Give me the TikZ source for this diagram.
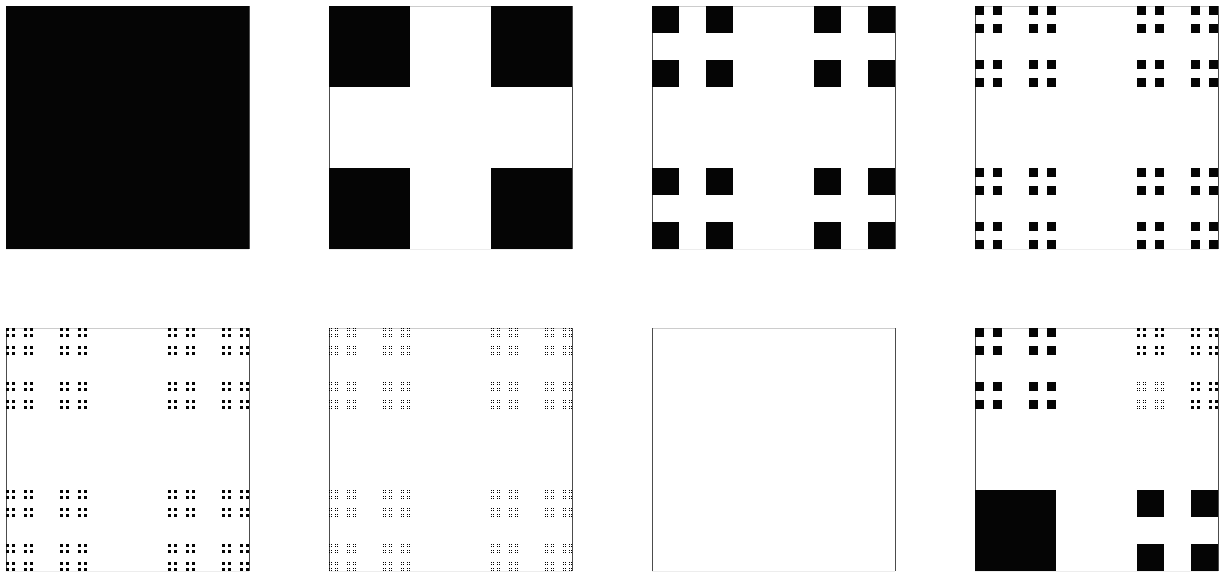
\documentclass[tikz,border=0pt]{standalone}
\usepackage{tikz}
\definecolor{frameL}{gray}{0.30}
\definecolor{frameT}{gray}{0.80}
\definecolor{frameB}{gray}{0.93}
\makeatletter
\def\cdust#1#2#3#4{%
  \ifnum#4=0
    \fill[dustfill] (#1,#2) rectangle ++(#3,#3);
  \else
    \begingroup
    \pgfmathsetmacro\cs{#3/3}%
    \pgfmathsetmacro\cx{#1+2*#3/3}%
    \pgfmathsetmacro\cy{#2+2*#3/3}%
    \pgfmathtruncatemacro\cn{#4-1}%
    \edef\cnext{\noexpand\cdust{#1}{#2}{\cs}{\cn}\noexpand\cdust{\cx}{#2}{\cs}{\cn}\noexpand\cdust{#1}{\cy}{\cs}{\cn}\noexpand\cdust{\cx}{\cy}{\cs}{\cn}}%
    \cnext
    \endgroup
  \fi}
\makeatother
\tikzset{
  dustfill/.style={fill=black!98},
}
\newcommand\cframe[2]{%
  \draw[frameT, line width=0.8pt] (#1,#2) -- ++(243,0);
  \draw[frameB, line width=0.8pt] (#1,#2+243) -- ++(243,0);
  \draw[frameL, line width=0.8pt] (#1,#2) -- ++(0,243);
  \draw[frameL, line width=0.8pt] (#1+243,#2) -- ++(0,243);
}
\begin{document}
\begin{tikzpicture}[x=1pt,y=-1pt]
\useasboundingbox (0,0) rectangle (1222,571);
% row 1
\cframe{6}{6}
\cdust{6}{6}{243}{0}
\cframe{329}{6}
\cdust{329}{6}{243}{1}
\cframe{652}{6}
\cdust{652}{6}{243}{2}
\cframe{975}{6}
\cdust{975}{6}{243}{3}
% row 2
\cframe{6}{328}
\cdust{6}{328}{243}{4}
\cframe{329}{328}
\cdust{329}{328}{243}{5}
\cframe{652}{328}
\cframe{975}{328}
% mixed panel
\cdust{975}{328}{81}{2}
\cdust{1137}{328}{27}{2}
\cdust{1191}{328}{27}{2}
\cdust{1137}{382}{27}{3}
\cdust{1191}{382}{27}{2}
\cdust{975}{490}{81}{0}
\cdust{1137}{490}{81}{1}
\end{tikzpicture}
\end{document}
